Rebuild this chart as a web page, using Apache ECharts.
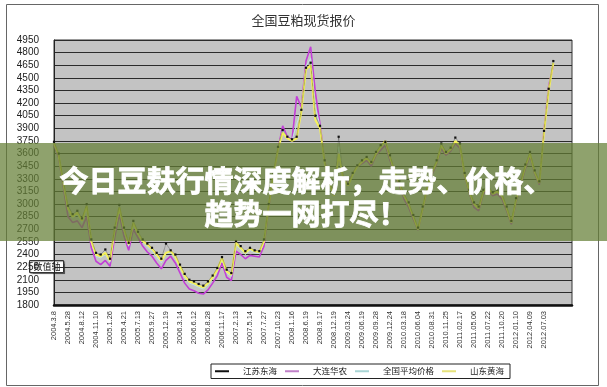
<!DOCTYPE html>
<html><head><meta charset="utf-8">
<script src="https://cdn.jsdelivr.net/npm/echarts@6/dist/echarts.min.js"></script>
<style>html,body{margin:0;padding:0;background:#fff}#c{width:607px;height:387px}</style>
</head><body><div id="c"></div>
<script>
const tickLabels = ['2004.3.8','2004.5.28','2004.8.12','2004.11.10','2005.1.26','2005.4.21','2005.7.13','2005.9.27','2005.12.19','2006.3.14','2006.6.12','2006.8.28','2006.11.17','2007.2.13','2007.5.14','2007.7.27','2007.10.23','2008.1.16','2008.6.19','2008.9.17','2008.12.19','2009.03.24','2009.06.19','2009.09.28','2009.12.24','2010.03.18','2010.06.04','2010.08.31','2010.11.25','2011.02.17','2011.05.06','2011.07.22','2011.10.20','2012.01.10','2012.04.09','2012.07.03'];
const seriesNames = ['江苏东海','大连华农','全国平均价格','山东黄海'];
const jiangsu = [3740,3600,3280,2980,2880,2920,2830,3000,2580,2420,2400,2460,2350,2720,2990,2720,2540,2800,2670,2580,2530,2480,2420,2350,2530,2450,2400,2280,2170,2100,2080,2050,2030,2080,2150,2240,2370,2220,2180,2560,2500,2440,2480,2450,2440,2580,3000,3370,3680,3880,3800,3770,3800,4120,4620,4680,4050,3930,3520,3270,3120,3800,3320,3240,3370,3460,3520,3560,3500,3620,3700,3740,3580,3400,3270,3120,3020,2870,2720,2970,3220,3400,3520,3720,3620,3670,3790,3720,3370,3170,3020,2970,3170,3220,3140,3170,3120,2970,2800,3070,3270,3470,3620,3400,3270,3870,4370,4700];
const dalian = [3700,3550,3200,2850,2780,2800,2720,2850,2480,2320,2280,2330,2260,2600,2880,2620,2450,2700,2600,2500,2430,2380,2300,2230,2330,2380,2300,2180,2060,1990,1970,1940,1930,1980,2060,2150,2300,2130,2090,2440,2400,2350,2390,2380,2370,2500,2950,3330,3650,3930,3800,3760,4280,4150,4700,4870,4330,3950,3520,3270,3100,3620,3300,3250,3360,3450,3480,3520,3450,3580,3640,3700,3520,3350,3220,3060,2960,2820,2690,2930,3180,3350,3480,3660,3580,3630,3720,3660,3330,3130,2960,2920,3120,3170,3100,3120,3060,2920,2760,3020,3220,3420,3570,3360,3230,3880,4400,4650];
const national = [3720,3570,3240,2930,2840,2870,2780,2950,2540,2380,2360,2400,2310,2670,2940,2680,2500,2760,2640,2550,2490,2440,2370,2300,2420,2420,2360,2240,2130,2060,2040,2010,1990,2040,2110,2200,2340,2180,2140,2510,2460,2400,2450,2420,2410,2550,2970,3350,3660,3880,3790,3760,3950,4120,4640,4730,4150,3930,3510,3260,3110,3680,3310,3230,3360,3450,3500,3540,3480,3600,3670,3730,3550,3380,3250,3090,2990,2850,2700,2950,3200,3380,3500,3690,3600,3650,3750,3690,3350,3150,3000,2950,3150,3200,3120,3150,3090,2950,2780,3050,3250,3450,3600,3380,3250,3870,4370,4680];
const shandong = [3720,3580,3250,2950,2850,2900,2800,2980,2560,2400,2380,2420,2330,2700,2960,2700,2520,2780,2650,2560,2520,2470,2400,2330,2420,2440,2380,2260,2150,2080,2060,2030,2010,2060,2130,2220,2360,2200,2160,2540,2480,2420,2470,2440,2430,2560,2980,3350,3650,3850,3780,3750,3780,4100,4600,4650,4000,3900,3500,3250,3100,3600,3300,3220,3350,3450,3500,3550,3480,3600,3680,3750,3560,3380,3250,3100,3000,2850,2700,2950,3200,3380,3500,3700,3600,3650,3750,3700,3350,3150,3000,2950,3150,3200,3120,3150,3100,2950,2780,3050,3250,3450,3600,3380,3250,3850,4350,4680];

const categories = [];
tickLabels.forEach(t => { categories.push(t, '', ''); });
while (categories.length < 112) categories.push('');

const chart = echarts.init(document.getElementById('c'), null, {renderer: 'canvas'});
chart.setOption({
  animation: false,
  backgroundColor: '#fff',
  title: {
    text: '全国豆粕现货报价', left: 'center', top: 9,
    textStyle: {fontSize: 13, fontWeight: 'normal', color: '#333', fontFamily: '"Noto Sans CJK SC"'}
  },
  legend: {
    data: seriesNames, left: 211, top: 364,
    orient: 'horizontal',
    borderColor: '#222', borderWidth: 1, padding: [3, 6, 3, 4],
    itemGap: 8, itemWidth: 14, itemHeight: 2, icon: 'rect',
    textStyle: {fontSize: 8.5, color: '#222', fontFamily: '"Noto Sans CJK SC"', padding: [0, 0, 0, 9]}
  },
  grid: {left: 54, right: 35, top: 40, bottom: 82, show: true, backgroundColor: '#c3c3c3', borderColor: '#333', borderWidth: 1},
  xAxis: {
    type: 'category', data: categories, boundaryGap: false,
    axisLine: {lineStyle: {color: '#111', width: 2.5}},
    axisTick: {show: false},
    axisLabel: {interval: 0, rotate: 90, fontSize: 7.5, color: '#333', margin: 6, fontFamily: 'Liberation Sans'},
    splitLine: {show: false}
  },
  yAxis: {
    type: 'value', min: 1800, max: 4950, interval: 150,
    axisLine: {show: true, lineStyle: {color: '#222', width: 1}},
    axisTick: {show: false},
    axisLabel: {fontSize: 10, color: '#222', margin: 15, fontFamily: 'Liberation Sans', formatter: v => String(v)},
    splitLine: {lineStyle: {color: '#2a2a2a', width: 1.2}}
  },
  series: [
    {name: '大连华农', type: 'line', data: dalian, symbol: 'none', z: 2,
     lineStyle: {color: '#c23fd6', width: 1.6}, itemStyle: {color: '#c080c8'}},
    {name: '全国平均价格', type: 'line', data: national, symbol: 'none', z: 3,
     lineStyle: {color: '#bfe6e6', width: 1}, itemStyle: {color: '#a8d4d4'}},
    {name: '山东黄海', type: 'line', data: shandong, symbol: 'none', z: 4,
     lineStyle: {color: '#f6f25a', width: 2}, itemStyle: {color: '#e6e27a'}},
    {name: '江苏东海', type: 'line', data: jiangsu, symbol: 'rect', symbolSize: 2.2, showSymbol: true, z: 5,
     lineStyle: {color: '#222', width: 0.6, type: 'dotted'}, itemStyle: {color: '#111'}}
  ],
  graphic: [
    {type: 'rect', left: 4, top: 2, z: 0, silent: true,
     shape: {width: 592, height: 381}, style: {fill: 'none', stroke: '#666', lineWidth: 1}},
    {type: 'group', left: 29, top: 260, z: 50, children: [
      {type: 'rect', shape: {x: 0, y: 0, width: 34, height: 12},
       style: {fill: '#fff', stroke: '#333', lineWidth: 1, shadowColor: 'rgba(0,0,0,0.4)', shadowOffsetX: 1, shadowOffsetY: 1, shadowBlur: 1}},
      {type: 'text', x: 4, y: 6, style: {text: '数值轴', font: '9px "Noto Sans CJK SC"', fill: '#111', verticalAlign: 'middle'}}
    ]},
    {type: 'rect', left: 0, top: 143, z: 100, silent: true,
     shape: {width: 607, height: 98}, style: {fill: 'rgba(100,126,52,0.72)'}},
    {type: 'text', z: 101, x: 306, y: 181, silent: true,
     style: {text: '今日豆麸行情深度解析，走势、价格、', font: 'bold 29px "Noto Sans CJK SC"', fill: '#fff', stroke: '#fff', lineWidth: 0.8, align: 'center', verticalAlign: 'middle'}},
    {type: 'text', z: 101, x: 306, y: 214, silent: true,
     style: {text: '趋势一网打尽！', font: 'bold 29px "Noto Sans CJK SC"', fill: '#fff', stroke: '#fff', lineWidth: 0.8, align: 'center', verticalAlign: 'middle'}}
  ]
});
</script></body></html>
